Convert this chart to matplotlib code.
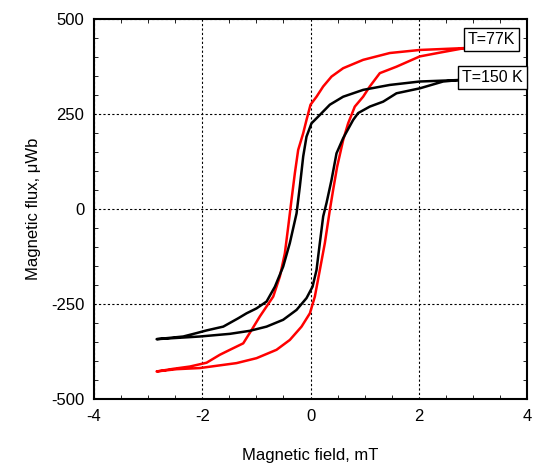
import numpy as np
import matplotlib.pyplot as plt
from matplotlib.ticker import MultipleLocator

plt.rcParams['font.family'] = ['Liberation Sans', 'DejaVu Sans']
plt.rcParams['axes.unicode_minus'] = False

# T = 150 K loop (black)
h150_down = [2.757, 2.018, 1.465, 0.972, 0.603, 0.357, 0.172, 0.018, -0.074, -0.135,
             -0.197, -0.258, -0.382, -0.505, -0.658, -0.812, -0.997, -1.182, -1.335,
             -1.612, -1.920, -2.105, -2.351, -2.843]
b150_down = [340, 336, 327, 314, 296, 275, 248, 226, 191, 139,
             60, -11, -89, -151, -204, -243, -261, -274, -287,
             -309, -319, -326, -335, -342]
h150_up = [-2.843, -2.043, -1.489, -1.120, -0.812, -0.505, -0.258, -0.074, 0.037, 0.111,
           0.172, 0.234, 0.295, 0.388, 0.480, 0.603, 0.788, 0.880, 1.095, 1.342,
           1.588, 2.018, 2.449, 2.757]
b150_up = [-342, -335, -328, -320, -309, -291, -265, -234, -204, -160,
           -89, -19, 16, 77, 147, 187, 235, 253, 270, 283,
           305, 318, 336, 340]

# T = 77 K loop (red)
h77_down = [2.849, 2.018, 1.465, 0.972, 0.603, 0.388, 0.234, 0.111, 0.0, -0.074,
            -0.135, -0.228, -0.289, -0.351, -0.412, -0.474, -0.566, -0.689, -0.812,
            -0.935, -1.089, -1.243, -1.489, -1.674, -1.920, -2.228, -2.535, -2.843]
b77_down = [424, 419, 411, 393, 371, 349, 323, 296, 275, 235,
            200, 156, 95, 25, -46, -116, -177, -230, -256,
            -282, -318, -353, -370, -383, -404, -414, -420, -427]
h77_up = [-2.843, -2.474, -2.043, -1.366, -0.997, -0.628, -0.382, -0.166, -0.012, 0.080,
          0.172, 0.265, 0.357, 0.418, 0.492, 0.603, 0.695, 0.818, 0.972, 1.095,
          1.280, 1.588, 2.018, 2.388, 2.849]
b77_up = [-427, -421, -418, -405, -392, -370, -344, -309, -274, -230,
          -160, -89, -2, 51, 112, 182, 226, 270, 296, 323,
          358, 375, 402, 412, 424]

fig = plt.figure(figsize=(5.34, 4.68), dpi=100)
ax = fig.add_axes([0.176, 0.147, 0.811, 0.812])

ax.plot(h77_down + h77_up, b77_down + b77_up, color='red', lw=1.8)
ax.plot(h150_down + h150_up, b150_down + b150_up, color='black', lw=1.8)

box = dict(boxstyle='square,pad=0.25', facecolor='white', edgecolor='black', lw=1)
ax.text(3.34, 447, 'T=77K', fontsize=11.5, ha='center', va='center', bbox=box)
ax.text(3.36, 347, 'T=150 K', fontsize=11.5, ha='center', va='center', bbox=box)

ax.set_xlim(-4, 4)
ax.set_ylim(-500, 500)
ax.set_xticks([-4, -2, 0, 2, 4])
ax.set_yticks([-500, -250, 0, 250, 500])
ax.xaxis.set_minor_locator(MultipleLocator(0.5))
ax.yaxis.set_minor_locator(MultipleLocator(50))
ax.tick_params(which='both', direction='in', top=True, right=True, labelsize=12)
ax.tick_params(which='major', length=0, pad=7)
ax.tick_params(which='minor', length=3)
ax.grid(True, color='black', linestyle=(0, (2, 2)), lw=0.8)
for s in ax.spines.values():
    s.set_linewidth(1.5)

ax.set_xlabel('Magnetic field, mT', fontsize=12, labelpad=17)
ax.set_ylabel('Magnetic flux, μWb', fontsize=12, labelpad=7)

fig.savefig('out.png', dpi=100)
